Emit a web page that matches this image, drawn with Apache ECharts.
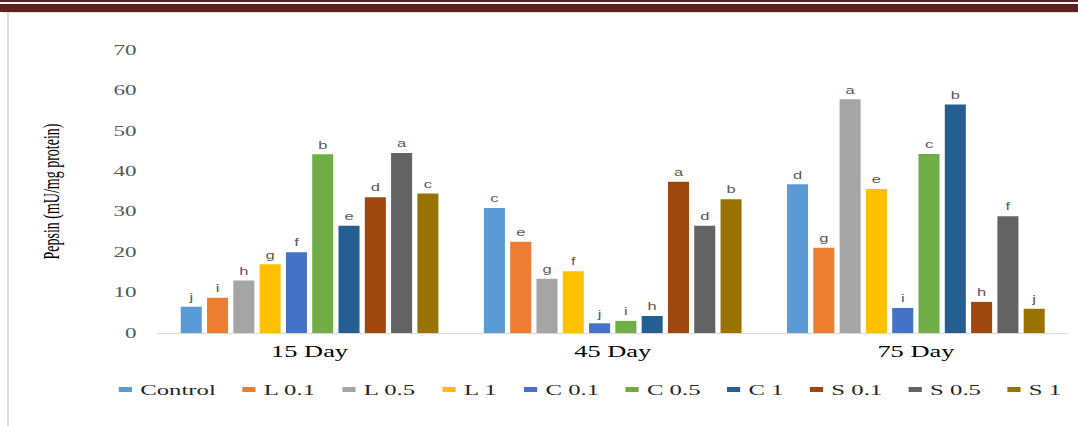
<!DOCTYPE html>
<html>
<head>
<meta charset="utf-8">
<script src="https://cdn.jsdelivr.net/npm/echarts@6/dist/echarts.min.js"></script>
<style>
  html, body { margin: 0; padding: 0; background: #ffffff; }
  #page { position: relative; width: 1078px; height: 426px; overflow: hidden; background: #fff; }
  /* page header rule and frame lines */
  .rule-thin { position: absolute; left: 0; top: 0; width: 1078px; height: 2px; background: #611f21; }
  .rule-thick { position: absolute; left: 0; top: 4px; width: 1078px; height: 8px; background: #611f21; }
  .frame-top { position: absolute; left: 3px; top: 12px; width: 1075px; height: 1px; background: #e2e2e2; }
  .frame-left { position: absolute; left: 7px; top: 12px; width: 2px; height: 414px; background: #dcdcdc; }
  /* the chart is drawn on a narrower stage and widened, giving the wide lettering */
  #chart { position: absolute; left: 0; top: 0; width: 653.33px; height: 426px;
           transform: scaleX(1.65); transform-origin: 0 0; }
</style>
</head>
<body>
<div id="page">
  <div class="rule-thin"></div>
  <div class="rule-thick"></div>
  <div class="frame-top"></div>
  <div class="frame-left"></div>
  <div id="chart"></div>
</div>
<script>
// Sampling days
const categories = ['15 Day', '45 Day', '75 Day'];

// Treatment groups
const seriesNames = ['Control', 'L 0.1', 'L 0.5', 'L 1', 'C 0.1', 'C 0.5', 'C 1', 'S 0.1', 'S 0.5', 'S 1'];
const seriesColors = ['#5b9bd5', '#ed7d31', '#a5a5a5', '#ffc000', '#4472c4', '#70ad47', '#255e91', '#9e480e', '#636363', '#997300'];

// Pepsin activity (mU/mg protein) per group, at 15 / 45 / 75 days
const control = [6.5, 30.9, 36.8];
const l01 = [8.7, 22.6, 21.1];
const l05 = [13.0, 13.4, 57.8];
const l1 = [17.0, 15.3, 35.6];
const c01 = [20.0, 2.4, 6.2];
const c05 = [44.2, 3.0, 44.3];
const c1 = [26.5, 4.2, 56.5];
const s01 = [33.6, 37.4, 7.7];
const s05 = [44.5, 26.5, 28.9];
const s1 = [34.5, 33.1, 6.0];

// Significance letters per group, at 15 / 45 / 75 days
const controlSig = ['j', 'c', 'd'];
const l01Sig = ['i', 'e', 'g'];
const l05Sig = ['h', 'g', 'a'];
const l1Sig = ['g', 'f', 'e'];
const c01Sig = ['f', 'j', 'i'];
const c05Sig = ['b', 'i', 'c'];
const c1Sig = ['e', 'h', 'b'];
const s01Sig = ['d', 'a', 'h'];
const s05Sig = ['a', 'd', 'f'];
const s1Sig = ['c', 'b', 'j'];

// Y axis ticks
const yMin = 0, yMax = 70, yStep = 10;

const seriesValues = [control, l01, l05, l1, c01, c05, c1, s01, s05, s1];
const seriesSig = [controlSig, l01Sig, l05Sig, l1Sig, c01Sig, c05Sig, c1Sig, s01Sig, s05Sig, s1Sig];

const serif = '"Liberation Serif", "Times New Roman", serif';
const sans = '"Liberation Sans", Arial, sans-serif';

const chart = echarts.init(document.getElementById('chart'), null, { renderer: 'svg' });

const series = seriesNames.map((name, i) => ({
  name: name,
  type: 'bar',
  barGap: '25%',
  barCategoryGap: '15%',
  itemStyle: { color: seriesColors[i] },
  data: seriesValues[i].map((v, j) => ({ value: v, sig: seriesSig[i][j] })),
  label: {
    show: true,
    position: 'top',
    distance: 4,
    fontFamily: sans,
    fontSize: 10,
    color: '#595959',
    formatter: p => p.data.sig
  },
  emphasis: { disabled: true },
  animation: false
}));

chart.setOption({
  animation: false,
  grid: { left: 95.76, right: 6.06, top: 50, bottom: 93, containLabel: false },
  legend: {
    data: seriesNames,
    left: 67,
    right: 0,
    top: 377,
    itemWidth: 8,
    itemHeight: 5,
    itemGap: 16,
    icon: 'rect',
    textStyle: { fontFamily: serif, fontSize: 15, color: '#262626' }
  },
  xAxis: {
    type: 'category',
    data: categories,
    axisLine: { show: true, lineStyle: { color: '#d9d9d9', width: 1 } },
    axisTick: { show: false },
    axisLabel: { margin: 11, fontFamily: serif, fontSize: 16, color: '#000000' },
    splitLine: { show: false }
  },
  yAxis: {
    type: 'value',
    min: yMin,
    max: yMax,
    interval: yStep,
    name: 'Pepsin (mU/mg protein)',
    nameLocation: 'middle',
    nameGap: 58,
    nameTextStyle: { fontFamily: serif, fontSize: 14, color: '#000000' },
    axisLine: { show: false },
    axisTick: { show: false },
    splitLine: { show: false },
    axisLabel: { margin: 13, fontFamily: serif, fontSize: 14, color: '#595959' }
  },
  series: series
});
</script>
</body>
</html>
